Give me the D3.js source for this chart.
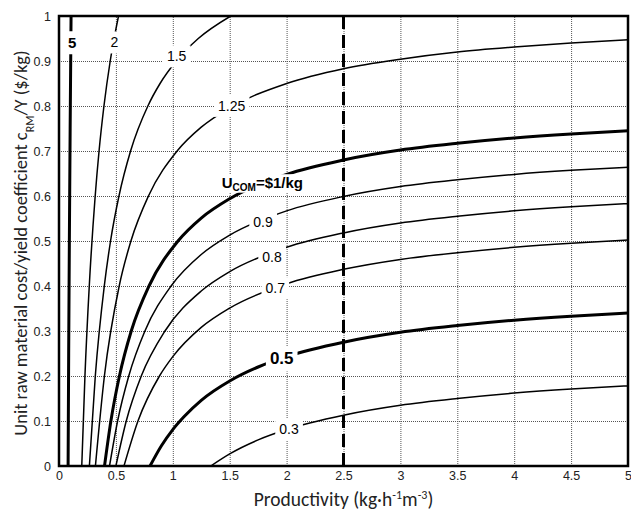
<!DOCTYPE html>
<html>
<head>
<meta charset="utf-8">
<script src="https://cdn.jsdelivr.net/npm/d3@7"></script>
<style>
 body { margin: 0; background: #fff; }
</style>
</head>
<body>
<svg id="chart" width="631" height="512"></svg>
<script>
// axis ticks
var xTicks = [0, 0.5, 1, 1.5, 2, 2.5, 3, 3.5, 4, 4.5, 5];
var yTicks = [0, 0.1, 0.2, 0.3, 0.4, 0.5, 0.6, 0.7, 0.8, 0.9, 1];

// contour levels of U_COM ($/kg), heavy ones drawn thicker
var contourLevels = ['5', '2', '1.5', '1.25', '1', '0.9', '0.8', '0.7', '0.5', '0.3'];
var heavyLevels = ['5', '1', '0.5'];

// each contour as [productivity, cRM/Y] points
var curve5 = [[0.080, 0], [0.085, 0.25], [0.091, 0.5], [0.098, 0.75], [0.106, 1]];
var curve2 = [[0.200, 0], [0.228, 0.2], [0.266, 0.4], [0.318, 0.6], [0.352, 0.7], [0.395, 0.8], [0.450, 0.9], [0.523, 1]];
var curve15 = [[0.267, 0], [0.319, 0.2], [0.398, 0.4], [0.453, 0.5], [0.527, 0.6], [0.629, 0.7], [0.781, 0.8],
  [0.888, 0.85], [1.030, 0.9], [1.224, 0.95], [1.509, 1]];
var curve125 = [[0.320, 0], [0.399, 0.2], [0.529, 0.4], [0.632, 0.5], [0.786, 0.6], [1.038, 0.7], [1.25, 0.753],
  [1.5, 0.796], [2, 0.850], [2.5, 0.883], [3, 0.904], [3.5, 0.920], [4, 0.931], [4.5, 0.940], [5, 0.947]];
var curve1 = [[0.400, 0], [0.456, 0.1], [0.531, 0.2], [0.635, 0.3], [0.791, 0.4], [1.046, 0.5], [1.25, 0.551],
  [1.5, 0.594], [2, 0.648], [2.5, 0.680], [3, 0.702], [3.5, 0.717], [4, 0.729], [4.5, 0.738], [5, 0.745]];
var curve09 = [[0.444, 0], [0.515, 0.1], [0.613, 0.2], [0.755, 0.3], [0.985, 0.4], [1.25, 0.470], [1.5, 0.513],
  [2, 0.567], [2.5, 0.599], [3, 0.621], [3.5, 0.636], [4, 0.648], [4.5, 0.657], [5, 0.664]];
var curve08 = [[0.500, 0], [0.591, 0.1], [0.723, 0.2], [0.931, 0.3], [1.25, 0.389], [1.5, 0.432], [2, 0.486],
  [2.5, 0.518], [3, 0.540], [3.5, 0.555], [4, 0.567], [4.5, 0.576], [5, 0.583]];
var curve07 = [[0.571, 0], [0.694, 0.1], [0.883, 0.2], [1, 0.243], [1.25, 0.308], [1.5, 0.351], [2, 0.405],
  [2.5, 0.437], [3, 0.459], [3.5, 0.474], [4, 0.486], [4.5, 0.495], [5, 0.502]];
var curve05 = [[0.800, 0], [0.9, 0.045], [1, 0.081], [1.1, 0.110], [1.25, 0.146], [1.5, 0.189], [1.75, 0.220],
  [2, 0.243], [2.5, 0.275], [3, 0.297], [3.5, 0.312], [4, 0.324], [4.5, 0.333], [5, 0.340]];
var curve03 = [[1.333, 0], [1.5, 0.027], [1.75, 0.058], [2, 0.081], [2.5, 0.113], [3, 0.135], [3.5, 0.150],
  [4, 0.162], [4.5, 0.171], [5, 0.178]];
var contourCurves = [curve5, curve2, curve15, curve125, curve1, curve09, curve08, curve07, curve05, curve03];

// in-line labels: text and anchor point in data units
var labelLevels = ['5', '2', '1.5', '1.25', '1', '0.9', '0.8', '0.7', '0.5', '0.3'];
var labelP = [0.115, 0.486, 1.034, 1.517, 1.43, 1.793, 1.872, 1.90, 1.957, 2.021];
var labelY = [0.940, 0.941, 0.910, 0.800, 0.629, 0.541, 0.464, 0.395, 0.239, 0.082];

// the marked productivity (dashed line)
var markedProductivity = [2.5];

var svg = d3.select('#chart');
var margin = {left: 59, right: 3, top: 16, bottom: 46};
var width = 631 - margin.left - margin.right;
var height = 512 - margin.top - margin.bottom;

var numFont = "'Liberation Sans', Arial, sans-serif";
var narrowFont = "'Liberation Sans Narrow', 'Arial Narrow', 'Liberation Sans', sans-serif";
var titleFont = "Carlito, Calibri, Lato, 'Open Sans', sans-serif";

var g = svg.append('g')
 .attr('transform', 'translate(' + margin.left + ',' + margin.top + ')');

var x = d3.scaleLinear().domain([0, 5]).range([0, width]);
var y = d3.scaleLinear().domain([0, 1]).range([height, 0]);

// dotted grid
var gridX = g.append('g')
 .attr('transform', 'translate(0,' + height + ')')
 .call(d3.axisBottom(x).tickValues(xTicks.slice(1, -1)).tickSize(-height).tickFormat(''));
var gridY = g.append('g')
 .call(d3.axisLeft(y).tickValues(yTicks.slice(1, -1)).tickSize(-width).tickFormat(''));
[gridX, gridY].forEach(function(gr) {
 gr.select('.domain').remove();
 gr.selectAll('line')
  .style('stroke', '#555')
  .style('stroke-width', '1px')
  .style('stroke-dasharray', '1,1');
});

// tick labels
var axX = g.append('g')
 .attr('transform', 'translate(0,' + height + ')')
 .call(d3.axisBottom(x).tickValues(xTicks).tickSize(0).tickPadding(5)
  .tickFormat(function(d) { return String(d); }));
var axY = g.append('g')
 .call(d3.axisLeft(y).tickValues(yTicks).tickSize(0).tickPadding(8)
  .tickFormat(function(d) { return String(d); }));
[axX, axY].forEach(function(ax) {
 ax.select('.domain').remove();
 ax.selectAll('text')
  .style('font-family', numFont)
  .style('font-size', '12.5px')
  .style('fill', '#222');
});

// clip the contours to the plot frame
g.append('clipPath').attr('id', 'plotClip')
 .append('rect').attr('width', width).attr('height', height);

var line = d3.line()
 .x(function(d) { return x(d[0]); })
 .y(function(d) { return y(d[1]); })
 .curve(d3.curveMonotoneX);

var curveLayer = g.append('g').attr('clip-path', 'url(#plotClip)');
contourCurves.forEach(function(pts, i) {
 var heavy = heavyLevels.indexOf(contourLevels[i]) >= 0;
 curveLayer.append('path')
  .attr('d', line(pts))
  .style('fill', 'none')
  .style('stroke', '#000')
  .style('stroke-width', heavy ? '3px' : '1.5px');
});

// dashed vertical marker
curveLayer.selectAll('.marker')
 .data(markedProductivity).enter()
 .append('line')
 .attr('class', 'marker')
 .attr('x1', function(d) { return x(d); })
 .attr('x2', function(d) { return x(d); })
 .attr('y1', 0)
 .attr('y2', height)
 .style('stroke', '#000')
 .style('stroke-width', '3px')
 .style('stroke-dasharray', '13,6');

// in-line labels over a white patch that breaks the lines
var labelLayer = g.append('g');
labelLevels.forEach(function(lev, i) {
 var heavy = heavyLevels.indexOf(lev) >= 0;
 var lg = labelLayer.append('g');
 var patch = lg.append('rect').style('fill', '#fff');
 var t = lg.append('text')
  .attr('x', x(labelP[i]))
  .attr('y', y(labelY[i]))
  .attr('dy', '0.35em')
  .style('fill', '#000');
 if (lev == '1') {
  t.attr('text-anchor', 'start')
   .style('font-family', numFont)
   .style('font-weight', 'bold')
   .style('font-size', '15px');
  t.append('tspan').text('U');
  t.append('tspan').attr('baseline-shift', '-25%').style('font-size', '10px').text('COM');
  t.append('tspan').text('=$' + lev + '/kg');
 } else {
  t.attr('text-anchor', 'middle')
   .style('font-family', heavy ? numFont : narrowFont)
   .style('font-weight', heavy ? 'bold' : 'normal')
   .style('font-size', lev == '0.5' ? '17px' : (heavy ? '15px' : '14px'))
   .text(lev);
 }
 var bb = t.node().getBBox();
 var padX = lev == '1' ? 1 : 4;
 var padY = lev == '1' ? 0 : 3;
 patch.attr('x', bb.x - padX).attr('y', bb.y - padY)
  .attr('width', bb.width + 2 * padX).attr('height', bb.height + 2 * padY);
});

// frame
g.append('rect')
 .attr('width', width)
 .attr('height', height)
 .style('fill', 'none')
 .style('stroke', '#000')
 .style('stroke-width', '2.5px');

// axis titles
var xTitle = svg.append('text')
 .attr('x', margin.left + x(2.5))
 .attr('y', 506)
 .attr('text-anchor', 'middle')
 .style('font-family', titleFont)
 .style('font-size', '19.5px')
 .style('fill', '#222');
xTitle.append('tspan').text('Productivity (kg\u00b7h');
xTitle.append('tspan').attr('baseline-shift', 'super').style('font-size', '12px').text('-1');
xTitle.append('tspan').text('m');
xTitle.append('tspan').attr('baseline-shift', 'super').style('font-size', '12px').text('-3');
xTitle.append('tspan').text(')');

var yTitle = svg.append('text')
 .attr('transform', 'translate(27,' + (margin.top + height / 2 + 2) + ') rotate(-90)')
 .attr('text-anchor', 'middle')
 .style('font-family', titleFont)
 .style('font-size', '18.5px')
 .style('fill', '#222');
yTitle.append('tspan').text('Unit raw material cost/yield coefficient c');
yTitle.append('tspan').attr('baseline-shift', 'sub').style('font-size', '12px').text('RM');
yTitle.append('tspan').text('/Y ($/kg)');
</script>
</body>
</html>
